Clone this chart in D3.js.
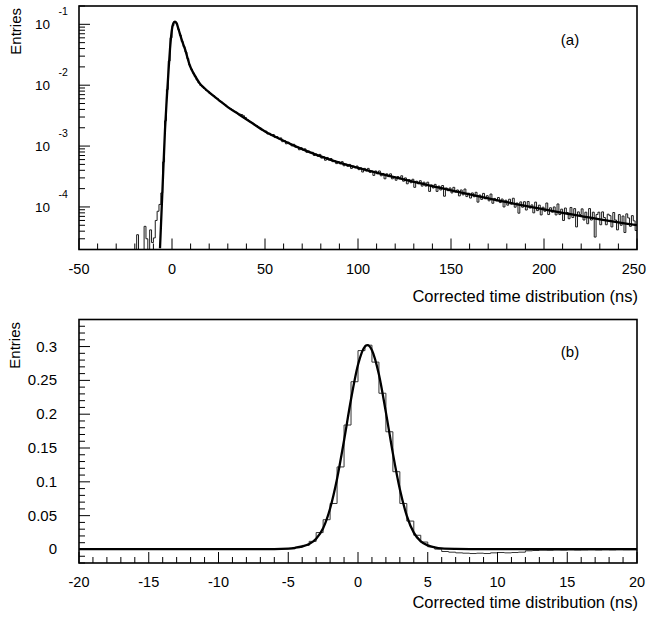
<!DOCTYPE html>
<html><head><meta charset="utf-8">
<script src="https://cdn.jsdelivr.net/npm/d3@7"></script>
<style>
body{margin:0;background:#fff}
svg{display:block}
text{font-family:"Liberation Sans",Arial,Helvetica,sans-serif;fill:#000}
</style>
</head><body>
<svg id="c" width="647" height="622"></svg>
<script>
// ---------------- DATA: panel (a) ----------------
const unitA = 1e-3;                // values below are in units of 1e-3 entries
const binStartA = -20, binWidthA = 1;
const entriesA = [
 0,0.035,0,0,0,0.048,0.030,0,0.042,0.026,0.031,0.060,0.085,0.11,0.17,0.55,2.6,8.5,25,60,
 95,111,104,83,66,52,43,35,27.5,21.5,18.3,15.8,13.8,12.2,10.9,9.9,9.4,8.8,8.2,7.9,
 7.3,7.0,6.7,6.2,6.0,5.6,5.3,5.0,4.8,4.5,4.3,4.1,3.9,3.7,3.6,3.4,3.35,3.3,3.15,2.95,
 2.72,2.58,2.45,2.36,2.22,2.16,2.03,1.97,1.84,1.79,
 1.76,1.58,1.62,1.50,1.55,1.38,1.43,1.32,1.36,1.18,1.23,1.09,1.16,1.09,1.01,1.07,0.96,0.97,0.87,0.94,
 0.86,0.90,0.79,0.83,0.775,0.79,0.70,0.74,0.68,0.73,0.635,0.67,0.585,0.65,0.59,0.625,0.555,0.575,0.515,0.555,
 0.51,0.555,0.475,0.505,0.465,0.50,0.43,0.47,0.44,0.47,
 0.41,0.44,0.375,0.43,0.39,0.43,0.37,0.39,0.33,0.39,0.35,0.39,0.325,0.355,0.29,0.35,0.315,0.35,0.29,0.315,
 0.275,0.315,0.29,0.325,0.265,0.30,0.24,0.28,0.25,0.285,0.21,0.265,0.24,0.27,0.22,0.255,0.22,0.255,0.18,0.23,
 0.205,0.235,0.18,0.22,0.19,0.225,0.15,0.205,0.185,0.205,
 0.17,0.21,0.175,0.19,0.152,0.19,0.158,0.197,0.148,0.168,0.14,0.17,0.147,0.174,0.12,0.157,0.133,0.167,0.136,0.153,
 0.126,0.163,0.115,0.138,0.126,0.143,0.118,0.135,0.10,0.129,0.107,0.134,0.111,0.139,0.099,0.116,0.079,0.121,0.099,0.122,
 0.089,0.123,0.096,0.108,0.080,0.12,0.087,0.107,0.074,0.099,
 0.085,0.116,0.075,0.097,0.082,0.100,0.074,0.112,0.075,0.092,0.060,0.096,0.081,0.064,0.098,0.067,0.094,0.047,0.083,0.075,
 0.093,0.061,0.082,0.053,0.094,0.061,0.082,0.032,0.075,0.082,0.051,0.083,0.067,0.051,0.076,0.072,0.047,0.081,0.061,0.042,
 0.075,0.050,0.071,0.038,0.077,0.066,0.048,0.072,0.059,0.041
];
const fitTimeA = [-6.45,-5.1,-3.76,-2.85,-1.88,-1.08,-0.16,0.8,1.6,2.4,3.5,5.2,7,9.7,12.4,15,17.5,20,25,30,36,42,
 50,55,60,65,70,75,80,85,90,95,100,105,110,115,120,125,130,135,140,145,150,155,160,165,170,175,180,185,190,195,
 200,205,210,215,220,225,230,235,240,245,250];
const fitValA = [0.021,0.20,1.86,5.75,17,39,77,105,111,105,83,56,39,20.6,14.2,10.6,8.9,7.6,5.75,4.37,3.31,2.51,
 1.738,1.449,1.222,1.038,0.891,0.772,0.676,0.597,0.533,0.480,0.437,0.399,0.365,0.3345,0.307,0.282,0.259,0.2385,0.220,0.203,
 0.1875,0.1735,0.1607,0.1491,0.1385,0.1288,0.1199,0.1117,0.1042,0.0974,
 0.0911,0.0853,0.080,0.0752,0.0707,0.0665,0.0627,0.0592,0.0559,0.0528,0.0501];
const xMajorA = [-50,0,50,100,150,200,250];
const xLabelsA = ["-50","0","50","100","150","200","250"];
const yExpA = [-1,-2,-3,-4];

// ---------------- DATA: panel (b) ----------------
const binStartB = -20, binWidthB = 0.5;
const entriesB = [
 0.0004,0.0002,0.0006,0.0003,0.0005,0.0001,0.0004,0.0007,0.0003,0.0002,
 0.0005,0.0006,0.0003,0.0004,0.0008,0.0002,0.0005,0.0004,0.0007,0.0003,
 0.0006,0.0005,0.0004,0.0008,0.0006,0.0009,0.0007,0.0011,0.0010,0.0009,
 0.001,0.003,0.006,0.012,0.025,0.044,0.068,0.122,0.184,0.248,
 0.294,0.302,0.277,0.231,0.174,0.115,0.068,0.042,0.021,0.011,
 0.004,0.0005,-0.003,-0.004,-0.005,-0.0055,-0.006,-0.0055,-0.006,-0.005,
 -0.0045,-0.005,-0.0045,-0.004,-0.002,-0.0015,
 -0.001,-0.0012,-0.0008,-0.001,-0.0006,-0.0009,-0.0007,-0.0005,-0.0008,-0.0004,-0.0006,-0.0003,-0.0005,-0.0004
];
const fitTimeB = [-20,-10,-6,-5,-4.5,-4,-3.5,-3,-2.5,-2,-1.5,-1,-0.5,0,0.5,0.67,1,1.5,2,2.5,3,3.5,4,4.5,5,5.5,6,7,8,10,20];
const fitValB = [0.0005,0.0005,0.0006,0.0012,0.0025,0.0045,0.008,0.016,0.0314,0.0606,0.1046,0.1611,0.222,0.273,0.300,0.302,
 0.2947,0.2586,0.2027,0.1421,0.0889,0.0498,0.0249,0.012,0.006,0.003,0.0015,0.0008,0.0006,0.0005,0.0005];
const xMajorB = [-20,-15,-10,-5,0,5,10,15,20];
const xLabelsB = ["-20","-15","-10","-5","0","5","10","15","20"];
const yMajorB = [0,0.05,0.1,0.15,0.2,0.25,0.3];
const yLabelsB = ["0","0.05","0.1","0.15","0.2","0.25","0.3"];

// ---------------- DRAW ----------------
const svg = d3.select("#c");
const W = 647;
const L = 79, R = 637;
const MAJ = 11, MIN = 6;
const FIT_W = 2.3, HIST_W = 1;

function clip(id, x0, x1, y0, y1) {
  svg.append("clipPath").attr("id", id).append("rect")
    .attr("x", x0).attr("y", y0).attr("width", x1 - x0).attr("height", y1 - y0);
}
// x tick label that stays inside the page
function xLabel(g, x, y, txt, size) {
  const t = g.append("text").attr("x", x).attr("y", y).attr("text-anchor", "middle")
    .attr("font-size", size).text(txt);
  const w = t.node().getComputedTextLength();
  if (x + w / 2 > W - 1) t.attr("text-anchor", "end").attr("x", W - 1);
}

// ===== Panel (a) =====
const TOPA = 6, BOTA = 249.5;
const xA = d3.scaleLinear().domain([-50, 250]).range([L, R]);
const yA = d3.scaleLog().domain([2e-5, 0.2]).range([BOTA, TOPA]);
const gA = svg.append("g");
clip("clipA", L, R, TOPA, BOTA);
const yMinA = yA.domain()[0];

const histPtsA = entriesA.map((v, i) => ({x: binStartA + i * binWidthA, y: v * unitA}));
histPtsA.push({x: binStartA + entriesA.length * binWidthA, y: entriesA[entriesA.length - 1] * unitA});
const lineA = d3.line().x(d => xA(d.x)).y(d => yA(Math.max(d.y, yMinA))).curve(d3.curveStepAfter);
gA.append("path").attr("clip-path", "url(#clipA)").attr("d", lineA(histPtsA))
  .attr("fill", "none").attr("stroke", "#1a1a1a").attr("stroke-width", HIST_W);

const fitPtsA = fitTimeA.map((t, i) => ({x: t, y: fitValA[i] * unitA}));
const fitLineA = d3.line().x(d => xA(d.x)).y(d => yA(d.y)).curve(d3.curveMonotoneX);
gA.append("path").attr("clip-path", "url(#clipA)").attr("d", fitLineA(fitPtsA))
  .attr("fill", "none").attr("stroke", "#000").attr("stroke-width", FIT_W).attr("stroke-linejoin", "round");

gA.append("rect").attr("x", L).attr("y", TOPA).attr("width", R - L).attr("height", BOTA - TOPA)
  .attr("fill", "none").attr("stroke", "#000").attr("stroke-width", 1.6);

d3.range(-50, 251, 10).forEach(t => {
  const major = xMajorA.includes(t);
  gA.append("line").attr("x1", xA(t)).attr("x2", xA(t)).attr("y1", BOTA).attr("y2", BOTA - (major ? MAJ : MIN))
    .attr("stroke", "#000").attr("stroke-width", 1);
});
xMajorA.forEach((t, i) => xLabel(gA, xA(t), 273.5, xLabelsA[i], "14.5px"));
for (let k = -5; k <= -1; k++) {
  for (let m = 1; m <= 9; m++) {
    const v = m * Math.pow(10, k);
    if (v < yA.domain()[0] * 0.999 || v > yA.domain()[1] * 1.001) continue;
    gA.append("line").attr("x1", L).attr("x2", L + (m === 1 ? MAJ : MIN)).attr("y1", yA(v)).attr("y2", yA(v))
      .attr("stroke", "#000").attr("stroke-width", 1);
  }
}
yExpA.forEach(e => {
  const y = yA(Math.pow(10, e));
  gA.append("text").attr("x", 50).attr("y", y + 5).attr("text-anchor", "end")
    .attr("font-size", "13.5px").text("10");
  gA.append("text").attr("x", 58.5).attr("y", y - 9).attr("text-anchor", "start")
    .attr("font-size", "10.5px").text(String(e));
});
gA.append("text").attr("transform", "translate(20.5,8) rotate(-90)").attr("text-anchor", "end")
  .attr("font-size", "15px").text("Entries");
gA.append("text").attr("x", 638).attr("y", 302).attr("text-anchor", "end")
  .attr("font-size", "16.5px").text("Corrected time distribution (ns)");
gA.append("text").attr("x", 570).attr("y", 45).attr("text-anchor", "middle")
  .attr("font-size", "15px").text("(a)");

// ===== Panel (b) =====
const TOPB = 319.5, BOTB = 563;
const xB = d3.scaleLinear().domain([-20, 20]).range([L, R]);
const yB = d3.scaleLinear().domain([-0.02, 0.34]).range([BOTB, TOPB]);
const gB = svg.append("g");
clip("clipB", L, R, TOPB, BOTB);

const histPtsB = entriesB.map((v, i) => ({x: binStartB + i * binWidthB, y: v}));
histPtsB.push({x: binStartB + entriesB.length * binWidthB, y: entriesB[entriesB.length - 1]});
const lineB = d3.line().x(d => xB(d.x)).y(d => yB(d.y)).curve(d3.curveStepAfter);
gB.append("path").attr("clip-path", "url(#clipB)").attr("d", lineB(histPtsB))
  .attr("fill", "none").attr("stroke", "#333").attr("stroke-width", HIST_W);

const fitPtsB = fitTimeB.map((t, i) => ({x: t, y: fitValB[i]}));
const fitLineB = d3.line().x(d => xB(d.x)).y(d => yB(d.y)).curve(d3.curveMonotoneX);
gB.append("path").attr("clip-path", "url(#clipB)").attr("d", fitLineB(fitPtsB))
  .attr("fill", "none").attr("stroke", "#000").attr("stroke-width", FIT_W).attr("stroke-linejoin", "round");

gB.append("rect").attr("x", L).attr("y", TOPB).attr("width", R - L).attr("height", BOTB - TOPB)
  .attr("fill", "none").attr("stroke", "#000").attr("stroke-width", 1.6);

d3.range(-20, 21, 1).forEach(t => {
  const major = xMajorB.includes(t);
  gB.append("line").attr("x1", xB(t)).attr("x2", xB(t)).attr("y1", BOTB).attr("y2", BOTB - (major ? MAJ : MIN))
    .attr("stroke", "#000").attr("stroke-width", 1);
});
xMajorB.forEach((t, i) => xLabel(gB, xB(t), 586.5, xLabelsB[i], "14.5px"));
d3.range(-20, 341, 10).map(v => v / 1000).forEach(v => {
  const major = yMajorB.some(m => Math.abs(m - v) < 1e-9);
  gB.append("line").attr("x1", L).attr("x2", L + (major ? MAJ : MIN)).attr("y1", yB(v)).attr("y2", yB(v))
    .attr("stroke", "#000").attr("stroke-width", 1);
});
yMajorB.forEach((v, i) => {
  gB.append("text").attr("x", 57).attr("y", yB(v) + 5).attr("text-anchor", "end")
    .attr("font-size", "15px").text(yLabelsB[i]);
});
gB.append("text").attr("transform", "translate(20,322) rotate(-90)").attr("text-anchor", "end")
  .attr("font-size", "15px").text("Entries");
gB.append("text").attr("x", 638).attr("y", 607.5).attr("text-anchor", "end")
  .attr("font-size", "16.5px").text("Corrected time distribution (ns)");
gB.append("text").attr("x", 570).attr("y", 357).attr("text-anchor", "middle")
  .attr("font-size", "15px").text("(b)");
</script>
</body></html>
